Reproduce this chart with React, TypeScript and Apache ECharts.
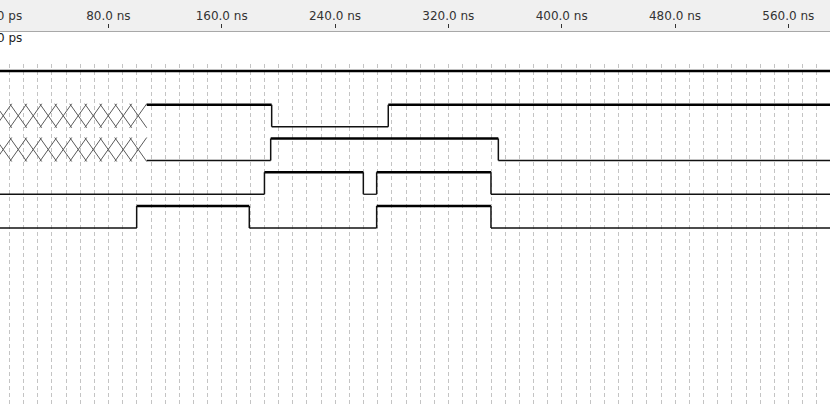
import React, { useEffect, useRef } from 'react';
import * as echarts from 'echarts';

// ---- data ----
const timeTickValues = [0, 80, 160, 240, 320, 400, 480, 560];
const timeTickLabels = ['0 ps', '80.0 ns', '160.0 ns', '240.0 ns', '320.0 ns', '400.0 ns', '480.0 ns', '560.0 ns'];
const cursorLabel = '0 ps';
const END_TIME = 590;
const X = -1; // undefined level

const sig0Times = [0];
const sig0Levels = [1];
const sig1Times = [0, 107.1, 195.3, 277.6];
const sig1Levels = [X, 1, 0, 1];
const sig2Times = [0, 107.1, 194.6, 355.3];
const sig2Levels = [X, 0, 1, 0];
const sig3Times = [0, 190.2, 260.0, 269.4, 350.1];
const sig3Levels = [0, 1, 0, 1, 0];
const sig4Times = [0, 100.0, 179.5, 269.4, 350.1];
const sig4Levels = [0, 1, 0, 1, 0];

const signals: [number[], number[]][] = [
  [sig0Times, sig0Levels],
  [sig1Times, sig1Levels],
  [sig2Times, sig2Levels],
  [sig3Times, sig3Levels],
  [sig4Times, sig4Levels],
];

// ---- layout ----
const W = 830;
const H = 407;
const PX_PER_NS = 1.416667;
const ZERO_X = -5;
const ROW_PX = 33.75;
const ROW0_Y = 71;
const LOW_PX = 22;
const WAVE_TOP = 64;
const LOW_OFFSET = LOW_PX / ROW_PX;
const FONT = 'DejaVu Sans';

export default function App() {
  const ref = useRef<HTMLDivElement>(null);
  useEffect(() => {
    if (!ref.current) return;
    const chart = echarts.init(ref.current, undefined, { renderer: 'svg' });

    const segments: number[][] = [];
    signals.forEach(([times, levels], row) => {
      times.forEach((t, i) => {
        const t1 = i + 1 < times.length ? times[i + 1] : END_TIME;
        segments.push([row, t, t1, levels[i], i > 0 ? levels[i - 1] : levels[i]]);
      });
    });

    const gridAMin = -10, gridAMax = 600;
    const gridALeft = ZERO_X + gridAMin * PX_PER_NS;
    const gridAWidth = (gridAMax - gridAMin) * PX_PER_NS;
    const gridBMin = -80, gridBMax = 640;
    const gridBLeft = ZERO_X + gridBMin * PX_PER_NS;
    const gridBWidth = (gridBMax - gridBMin) * PX_PER_NS;

    const option: any = {
      animation: false,
      backgroundColor: '#ffffff',
      textStyle: { fontFamily: FONT },
      graphic: [
        { type: 'rect', z: -10, shape: { x: 0, y: 0, width: W, height: 31 }, style: { fill: '#f0f0f0' } },
        { type: 'line', z: -9, shape: { x1: 0, y1: 31.5, x2: W, y2: 31.5 }, style: { stroke: '#a8a8a8', lineWidth: 1 } },
        { type: 'text', left: -3, top: 32, style: { text: cursorLabel, fill: '#222', font: '12px ' + FONT } },
      ],
      grid: [
        { left: gridALeft, top: WAVE_TOP, width: gridAWidth, height: H - WAVE_TOP, containLabel: false, outerBoundsMode: 'none' },
        { left: gridBLeft, top: 0, width: gridBWidth, height: 28, containLabel: false, outerBoundsMode: 'none' },
      ],
      xAxis: [
        {
          type: 'value', gridIndex: 0, min: gridAMin, max: gridAMax, interval: 10, position: 'top',
          axisLine: { show: true, lineStyle: { color: '#c8c8c8', width: 1 } },
          axisTick: { show: false }, axisLabel: { show: false },
          splitLine: { show: true, lineStyle: { color: '#c4c4c4', width: 1, type: [4, 3] } },
        },
        {
          type: 'value', gridIndex: 1, min: gridBMin, max: gridBMax, interval: 80, position: 'bottom',
          axisLine: { show: false },
          axisTick: { show: true, inside: true, length: 4, lineStyle: { color: '#333', width: 1 } },
          axisLabel: {
            show: true, inside: true, margin: 6, color: '#333', fontSize: 12, fontFamily: FONT,
            formatter: (v: number) => {
              const i = timeTickValues.indexOf(Math.round(v));
              if (i < 0) return '';
              if (i === 0) return '{first|' + timeTickLabels[0] + '}';
              return timeTickLabels[i];
            },
            rich: { first: { padding: [0, 0, 0, 29], fontSize: 12, color: '#333', fontFamily: FONT } },
          },
          splitLine: { show: false },
        },
      ],
      yAxis: [
        {
          type: 'value', gridIndex: 0, inverse: true,
          min: -(ROW0_Y - WAVE_TOP) / ROW_PX, max: (H - ROW0_Y) / ROW_PX,
          show: false, splitLine: { show: false },
        },
        { type: 'value', gridIndex: 1, show: false, splitLine: { show: false } },
      ],
      series: [
        {
          type: 'custom', xAxisIndex: 0, yAxisIndex: 0, clip: true,
          encode: { x: [1, 2], y: 0 },
          data: segments,
          renderItem: (params: any, api: any) => {
            const row = api.value(0), t0 = api.value(1), t1 = api.value(2);
            const lv = api.value(3), prev = api.value(4);
            const p0 = api.coord([t0, row]);
            const p1 = api.coord([t1, row]);
            const x0 = p0[0], x1 = p1[0], yH = p0[1];
            const yL = api.coord([t0, row + LOW_OFFSET])[1];
            const children: any[] = [];
            if (lv === 1) {
              children.push({ type: 'line', shape: { x1: x0, y1: yH, x2: x1, y2: yH }, style: { stroke: '#000', lineWidth: 2.4 } });
            } else if (lv === 0) {
              children.push({ type: 'line', shape: { x1: x0, y1: yL, x2: x1, y2: yL }, style: { stroke: '#111', lineWidth: 1.3 } });
            } else {
              const half = 8.5;
              const top = yH - 1, bot = yL + 1;
              let cx = x1 - half;
              while (cx + half > x0 - 20) {
                children.push({ type: 'line', shape: { x1: cx - half, y1: top, x2: cx + half, y2: bot }, style: { stroke: '#5a5a5a', lineWidth: 1 } });
                children.push({ type: 'line', shape: { x1: cx - half, y1: bot, x2: cx + half, y2: top }, style: { stroke: '#5a5a5a', lineWidth: 1 } });
                cx -= 15;
              }
            }
            if ((lv === 0 || lv === 1) && (prev === 0 || prev === 1) && prev !== lv) {
              children.push({ type: 'line', shape: { x1: x0, y1: yH, x2: x0, y2: yL }, style: { stroke: '#111', lineWidth: 1.5 } });
            }
            return { type: 'group', children };
          },
        },
      ],
    };
    chart.setOption(option);
    return () => chart.dispose();
  }, []);
  return <div ref={ref} style={{ position: 'absolute', left: 0, top: 0, width: W, height: H }} />;
}
